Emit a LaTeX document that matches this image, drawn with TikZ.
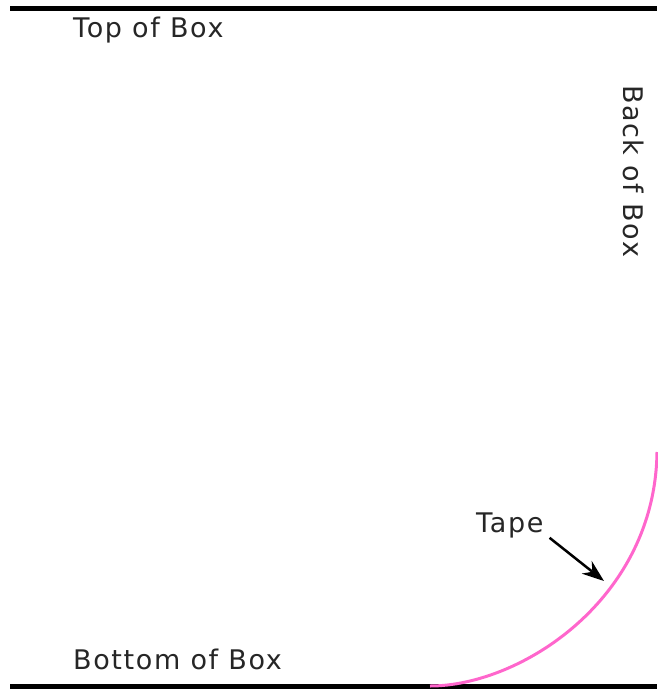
\documentclass[tikz,border=0pt]{standalone}
\usepackage{fontspec}
\setmainfont[LetterSpace=6]{DejaVu Sans}
\usepackage{tikz}
\usetikzlibrary{arrows.meta,positioning}
\definecolor{tapepink}{RGB}{255, 102, 204}
\tikzset{
  boxlabel/.style={font=\fontsize{27}{32}\selectfont, inner sep=0pt, text=black!85},
  boxedge/.style={line width=5pt, draw=black}
}
\begin{document}
\begin{tikzpicture}[x=1pt, y=-1pt, >={Stealth[length=22pt, width=16pt]}]
        \useasboundingbox (0,0) rectangle (657,692);

        % Box edges
        \coordinate (topL) at (10, 9);
        \coordinate (topR) at (657, 9);
        \coordinate (botL) at (10, 686);
        \coordinate (botR) at (657, 686);
        \draw[boxedge] (topL) -- (topR);
        \draw[boxedge] (botL) -- (botR);

        % Labels
        \node[boxlabel, anchor=base west] (top) at (73, 38) {Top of Box};
        \node[boxlabel, anchor=base west] (bottom) at (73, 669) {Bottom of Box};
        \node[boxlabel, anchor=base west, rotate=-90] (back) at (623, 85) {Back of Box};

        % Tape
        \coordinate (tapeA) at (430, 686);
        \coordinate (tapeB) at (657, 452);
        \draw[tapepink, line width=3pt] (tapeA) .. controls (520, 686) and (655, 600) .. (tapeB);
        \node[boxlabel, anchor=base west] (tape) at (476, 532) {Tape};
        \coordinate (tapeTip) at (604, 581);
        \draw[->, line width=2.5pt] (tape.south east) ++(6, 0) coordinate (tapeTail) (tapeTail) -- (tapeTip);
\end{tikzpicture}
\end{document}
